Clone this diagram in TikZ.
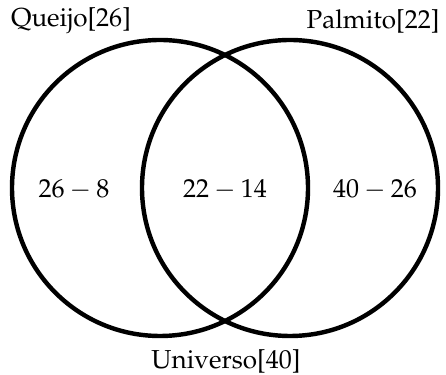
\documentclass[tikz,border=0pt]{standalone}
\usepackage[T1]{fontenc}
\usepackage{mathpazo}
\usepackage{tikz}
\usetikzlibrary{positioning}

\begin{document}
\begin{tikzpicture}[
  x=0.0135cm,
  y=-0.0135cm,
  conjunto/.style={line width=1.7pt},
  rotulo/.style={inner sep=0pt}
]
  \useasboundingbox (0,0) rectangle (446,375);

  % os dois conjuntos
  \coordinate (cq) at (160,188);
  \coordinate (cp) at (290,188);
  \draw[conjunto] (cq) circle (148);
  \draw[conjunto] (cp) circle (148);

  \node[rotulo] (queijo) at (71,21) {Queijo[26]};
  \node[rotulo] (palmito) at (373,21) {Palmito[22]};
  \node[rotulo] (universo) at (226,361) {Universo[40]};

  \node[rotulo] (soq) at (74,190) {$26-8$};
  \node[rotulo] (ambos) at (225,190) {$22-14$};
  \node[rotulo] (sop) at (375,190) {$40-26$};
\end{tikzpicture}
\end{document}
